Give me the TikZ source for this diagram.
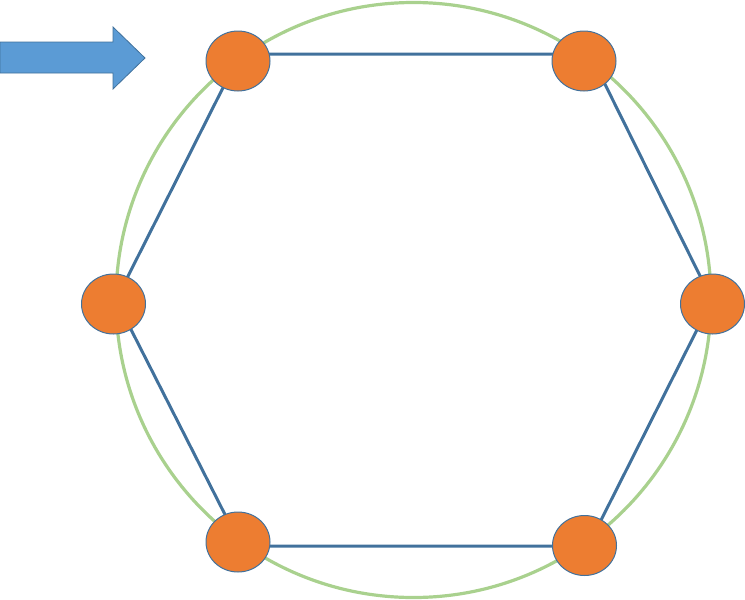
\documentclass[tikz,border=0pt]{standalone}
\usetikzlibrary{shapes.geometric}
\definecolor{ringgreen}{HTML}{A9D18E}
\definecolor{edgeblue}{HTML}{41719C}
\definecolor{dotorange}{HTML}{ED7D31}
\definecolor{arrowblue}{HTML}{5B9BD5}
\tikzset{
  dot/.style={ellipse, draw=edgeblue, line width=1pt, fill=dotorange, minimum width=64pt, minimum height=60pt, inner sep=0pt},
  edge/.style={draw=edgeblue, line width=3pt},
  ring/.style={draw=ringgreen, line width=3.2pt},
  bigarrow/.style={draw=edgeblue, line width=0.8pt, fill=arrowblue}
}
\begin{document}
\begin{tikzpicture}[x=1pt,y=-1pt]
\useasboundingbox (0,0) rectangle (745,600);
% ring
\draw[ring] (413.5,300) circle[radius=297.5];
% hexagon vertices
\coordinate (vtl) at (240,54);
\coordinate (vtr) at (590,54);
\coordinate (vr) at (712,300);
\coordinate (vbr) at (588,546);
\coordinate (vbl) at (241,546);
\coordinate (vl) at (116,300);
\draw[edge, line join=round] (vtl) -- (vtr) -- (vr) -- (vbr) -- (vbl) -- (vl) -- cycle;
% dots
\node[dot] (ntl) at (238,61) {};
\node[dot] (ntr) at (584,61) {};
\node[dot] (nl) at (113.5,304) {};
\node[dot] (nr) at (712.5,304) {};
\node[dot] (nbl) at (238,542) {};
\node[dot] (nbr) at (584.5,545.5) {};
% arrow
\draw[bigarrow] (0,42) -- (113,42) -- (113,27) -- (145,58) -- (113,89) -- (113,73) -- (0,73) -- cycle;
\end{tikzpicture}
\end{document}
